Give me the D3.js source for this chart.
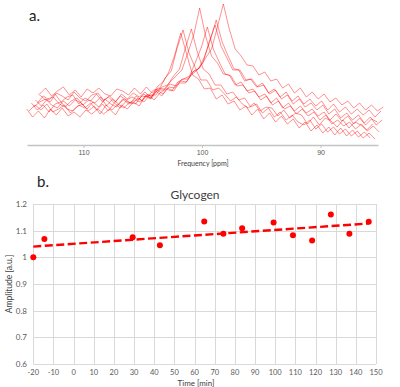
<!DOCTYPE html>
<html>
<head>
<meta charset="utf-8">
<script src="https://cdn.jsdelivr.net/npm/d3@7"></script>
<style>
  body { margin: 0; background: #fff; }
  svg { display: block; font-family: Lato, "Open Sans", sans-serif; }
</style>
</head>
<body>
<svg id="chart" width="400" height="387"></svg>
<script>
// ---- panel a: stacked 13C spectra (intensity in a.u., sampled every 0.5 ppm) ----
const ppmGrid = d3.range(59).map(i => 114.8 - 0.5 * i);
const traceShift = [0, -0.2, -0.4, -0.6, -0.75, -0.9, -1.0, -1.1];
const spectra = [
  [36,28,34,27,36,30,37,29,33,28,35,31,36,31,36,30,40,36,43,39,49,47,58,63,73,90,112,91,70,66,56,57,46,50,41,44,35,39,30,36,26,32,23,29,21,26,17,23,14,20,12,18,10,17,9,15,8,13,7],
  [34,40,35,41,33,36,40,32,38,41,34,39,31,40,35,41,37,43,41,49,48,55,56,67,74,97,115,92,78,65,65,55,57,51,44,48,41,37,42,34,38,37,29,35,27,32,30,21,28,20,27,24,18,25,17,23,20,15,21],
  [42,35,40,33,41,43,36,34,40,37,42,35,41,34,42,37,44,41,47,43,50,50,58,60,69,76,97,116,93,76,71,60,60,51,53,45,47,38,41,32,37,28,33,25,30,23,20,25,16,21,13,18,11,16,9,14,7,12,6],
  [38,43,46,40,37,44,39,45,42,36,43,38,46,41,38,46,41,45,43,50,49,55,55,63,69,75,92,110,137,109,89,82,71,70,60,63,54,56,48,51,42,47,37,42,34,39,32,36,29,33,25,31,24,29,21,27,20,26,23],
  [45,39,46,48,41,38,44,47,40,45,42,48,39,46,41,46,42,49,44,51,45,52,56,54,63,66,69,83,98,118,96,83,71,69,59,60,52,54,45,49,40,44,36,39,31,36,29,33,25,30,21,25,19,23,16,21,14,19,13],
  [42,49,45,51,43,48,50,41,47,44,51,43,48,42,49,45,48,45,51,46,54,49,57,54,62,62,70,75,83,103,120,99,87,75,75,64,66,58,62,52,56,48,53,44,49,41,46,39,44,35,41,33,38,31,36,30,35,28,34],
  [51,46,43,52,49,45,53,47,44,50,52,45,49,43,51,46,52,48,53,46,55,51,58,57,64,63,73,76,88,105,125,103,89,76,75,65,66,58,60,51,55,46,50,41,46,38,42,35,40,31,36,27,32,25,30,22,28,20,25],
  [51,57,49,54,58,50,55,48,56,52,57,51,49,56,54,50,57,51,58,52,57,56,61,59,66,66,74,77,87,96,118,141,116,96,89,80,79,70,73,64,66,57,61,52,57,48,53,46,51,43,47,40,44,37,42,35,40,34,38]
];
const freqTicks = [110, 100, 90];

// ---- panel b: glycogen amplitude over time ----
const timeMin = [-20, -14.5, 29.3, 42.8, 64.8, 74.3, 83.6, 99.2, 108.8, 118.3, 127.6, 136.8, 146.4];
const amplitude = [1.000, 1.069, 1.075, 1.045, 1.134, 1.088, 1.109, 1.131, 1.083, 1.063, 1.161, 1.088, 1.133];
const timeTicks = d3.range(-20, 151, 10);
const ampTicks = [0.6, 0.7, 0.8, 0.9, 1.0, 1.1, 1.2];

const svg = d3.select("#chart");

// ================= panel a =================
const xA = d3.scaleLinear().domain([114.77, 85.15]).range([27, 378]);
const yA = d3.scaleLinear().domain([0, 140]).range([145, 5]);

svg.append("text")
  .attr("x", 29).attr("y", 21)
  .style("font-size", "15px")
  .attr("fill", "#222")
  .text("a.");

const specLine = d3.line()
  .x(d => xA(d[0]))
  .y(d => yA(d[1]));

svg.append("g")
  .selectAll("path")
  .data(spectra)
  .join("path")
  .attr("d", (vals, k) => specLine(vals.map((v, i) => [ppmGrid[i] + traceShift[k], v])))
  .attr("fill", "none")
  .attr("stroke", "#ff0000")
  .attr("stroke-opacity", 0.55)
  .attr("stroke-width", 0.8)
  .attr("stroke-linejoin", "round");

const axA = svg.append("g")
  .attr("transform", "translate(0,145)")
  .call(d3.axisBottom(xA).tickValues(freqTicks).tickSize(3).tickSizeOuter(0).tickPadding(2));
axA.select(".domain").attr("stroke", "#c4c4c4").attr("stroke-width", 1.6);
axA.selectAll(".tick line").attr("stroke", "#c4c4c4");
axA.selectAll(".tick text").attr("fill", "#595959").style("font-size", "7px").attr("font-family", null);

svg.append("text")
  .attr("x", 203).attr("y", 166)
  .attr("text-anchor", "middle")
  .style("font-size", "7px")
  .attr("fill", "#404040")
  .text("Frequency [ppm]");

// ================= panel b =================
const xB = d3.scaleLinear().domain([-20, 150]).range([33.3, 376]);
const yB = d3.scaleLinear().domain([0.6, 1.2]).range([364, 204]);

svg.append("text")
  .attr("x", 37).attr("y", 187)
  .style("font-size", "15px")
  .attr("fill", "#222")
  .text("b.");

svg.append("text")
  .attr("x", 195).attr("y", 199)
  .attr("text-anchor", "middle")
  .style("font-size", "12px")
  .attr("fill", "#404040")
  .text("Glycogen");

const grid = svg.append("g").attr("stroke", "#d9d9d9").attr("stroke-width", 1);
grid.selectAll("line.v")
  .data(timeTicks)
  .join("line")
  .attr("class", "v")
  .attr("x1", d => Math.round(xB(d)) + 0.5).attr("x2", d => Math.round(xB(d)) + 0.5)
  .attr("y1", yB(1.2)).attr("y2", yB(0.6));
grid.selectAll("line.h")
  .data(ampTicks)
  .join("line")
  .attr("class", "h")
  .attr("x1", xB(-20)).attr("x2", xB(150))
  .attr("y1", d => Math.round(yB(d)) + 0.5).attr("y2", d => Math.round(yB(d)) + 0.5);

svg.append("g")
  .selectAll("text")
  .data(timeTicks)
  .join("text")
  .attr("x", d => xB(d))
  .attr("y", 375)
  .attr("text-anchor", "middle")
  .style("font-size", "7.5px")
  .attr("fill", "#595959")
  .text(d => d);

svg.append("g")
  .selectAll("text")
  .data(ampTicks)
  .join("text")
  .attr("x", 27)
  .attr("y", d => yB(d) + 3)
  .attr("text-anchor", "end")
  .style("font-size", "8px")
  .attr("fill", "#595959")
  .text(d => String(Math.round(d * 10) / 10));

svg.append("text")
  .attr("x", 196).attr("y", 385.5)
  .attr("text-anchor", "middle")
  .style("font-size", "8px")
  .attr("fill", "#404040")
  .text("Time [min]");

svg.append("text")
  .attr("transform", "translate(12,284) rotate(-90)")
  .attr("text-anchor", "middle")
  .style("font-size", "8.5px")
  .attr("fill", "#404040")
  .text("Amplitude [a.u.]");

// linear trendline (least squares over the points)
const mx = d3.mean(timeMin), my = d3.mean(amplitude);
const slope = d3.sum(timeMin, (t, i) => (t - mx) * (amplitude[i] - my)) / d3.sum(timeMin, t => (t - mx) ** 2);
const fit = t => my + slope * (t - mx);
const tEnds = d3.extent(timeMin);

svg.append("line")
  .attr("x1", xB(tEnds[0])).attr("y1", yB(fit(tEnds[0])))
  .attr("x2", xB(tEnds[1])).attr("y2", yB(fit(tEnds[1])))
  .attr("stroke", "#ff0000")
  .attr("stroke-width", 2.4)
  .attr("stroke-dasharray", "8,3.5");

svg.append("g")
  .selectAll("circle")
  .data(timeMin)
  .join("circle")
  .attr("cx", d => xB(d))
  .attr("cy", (d, i) => yB(amplitude[i]))
  .attr("r", 3)
  .attr("fill", "#ff0000");
</script>
</body>
</html>
